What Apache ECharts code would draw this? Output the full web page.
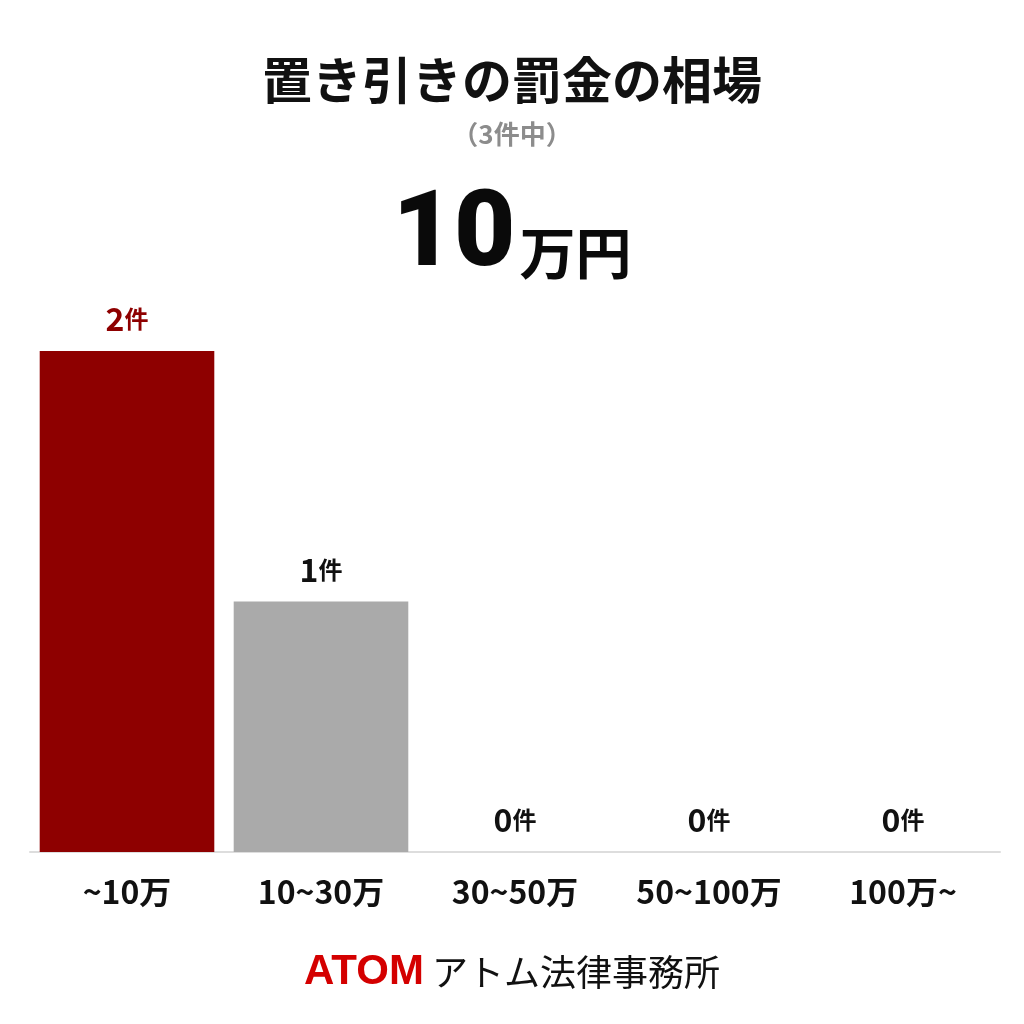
<!DOCTYPE html>
<html><head><meta charset="utf-8">
<script src="https://cdn.jsdelivr.net/npm/echarts@6/dist/echarts.min.js"></script>
<style>html,body{margin:0;padding:0;background:#fff}#c{width:1024px;height:1024px}</style>
</head><body><div id="c"></div>
<script>
const categories = ['~10万', '10~30万', '30~50万', '50~100万', '100万~'];
const counts = [2, 1, 0, 0, 0];
const barColors = ['#8e0000', '#aaaaaa', '#aaaaaa', '#aaaaaa', '#aaaaaa'];
const labelColors = ['#8e0000', '#111111', '#111111', '#111111', '#111111'];
const titleText = '置き引きの罰金の相場';
const subText = '（3件中）';
const bigValue = '10';
const bigUnit = '万円';

const font = '"Noto Sans CJK JP", "Noto Sans", sans-serif';
const chart = echarts.init(document.getElementById('c'));
chart.setOption({
  backgroundColor: '#ffffff',
  animation: false,
  title: [
    {text: titleText, left: 'center', top: 50, textStyle: {fontFamily: font, fontSize: 50, fontWeight: 'bold', color: '#111'}},
    {text: subText, left: 'center', top: 116, textStyle: {fontFamily: font, fontSize: 26, fontWeight: 'bold', color: '#8c8c8c'}},
    {text: '{a|' + bigValue + '}{b|' + bigUnit + '}', left: 'center', top: 180,
     textStyle: {rich: {
       a: {fontFamily: 'Roboto, "Noto Sans", sans-serif', fontSize: 106, fontWeight: 900, color: '#0a0a0a', verticalAlign: 'bottom'},
       b: {fontFamily: font, fontSize: 56, fontWeight: 'bold', color: '#0a0a0a', verticalAlign: 'bottom', padding: [0,0,10,4]}
     }}},
    {text: '{a|ATOM}{b|アトム法律事務所}', left: 'center', top: 946,
     textStyle: {rich: {
       a: {fontFamily: '"Liberation Sans", Arial, sans-serif', fontSize: 42, fontWeight: 'bold', color: '#d40000', padding: [0,8,0,0]},
       b: {fontFamily: font, fontSize: 36, fontWeight: 'normal', color: '#111'}
     }}}
  ],
  grid: {left: 30, right: 24, top: 351, bottom: 172, containLabel: false},
  xAxis: {
    type: 'category', data: categories,
    axisLine: {show: true, lineStyle: {color: '#dddddd', width: 2}},
    axisTick: {show: false},
    axisLabel: {interval: 0, hideOverlap: false, fontFamily: font, fontSize: 32, fontWeight: 'bold', color: '#111', margin: 24}
  },
  yAxis: {type: 'value', min: 0, max: 2, show: false, splitLine: {show: false}},
  series: [{
    type: 'bar', barCategoryGap: '10%',
    data: counts.map((v, i) => ({value: v, itemStyle: {color: barColors[i]},
      label: {color: labelColors[i]}})),
    label: {show: true, position: 'top', distance: 16,
      formatter: p => '{n|' + p.value + '}{u|件}',
      rich: {n: {fontFamily: font, fontSize: 32, fontWeight: 'bold'}, u: {fontFamily: font, fontSize: 24, fontWeight: 'bold'}}
    }
  }]
});
</script></body></html>
